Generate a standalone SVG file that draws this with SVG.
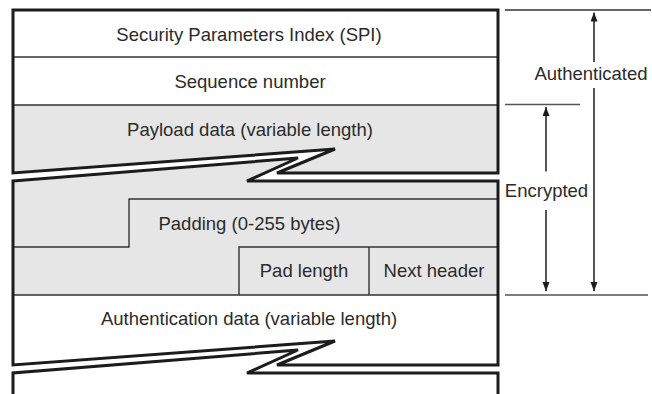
<svg xmlns="http://www.w3.org/2000/svg" width="652" height="394" viewBox="0 0 652 394">
<style>
text{font-family:"Liberation Sans",Arial,sans-serif;font-size:18.5px;fill:#2b2b2b}
.c{text-anchor:middle}
.gray{fill:#e6e6e7;stroke:none}
.white{fill:#fff;stroke:none}
.inner{fill:none;stroke:#333;stroke-width:1.4}
.outer{fill:none;stroke:#1c1c1c;stroke-width:3;stroke-linejoin:miter}
.rule{stroke:#555;stroke-width:1.6}
.arr{stroke:#1c1c1c;stroke-width:1.5;fill:none;marker-end:url(#ah)}
</style>
<defs>
<marker id="ah" markerUnits="userSpaceOnUse" markerWidth="9" markerHeight="8" refX="9" refY="3.5" orient="auto">
<path d="M0,0 L9,3.5 L0,7 z" fill="#1c1c1c"/>
</marker>
</defs>
<rect width="652" height="394" fill="#fff"/>
<g id="packet-top">
<rect class="white" x="13" y="10" width="485" height="95"/>
<path class="gray" d="M13,105 L498,105 L498,173 L277,173 L335,149 L13,173 Z"/>
<path class="inner" d="M13,57 L498,57 M13,105 L498,105"/>
<path class="outer" d="M13,173 L13,10 L498,10 L498,173 L277,173 L335,149 Z"/>
</g>
<g id="packet-middle">
<path class="gray" d="M13,181 L298,158 L247,181 L498,181 L498,295 L13,295 Z"/>
<path class="white" d="M13,295 L498,295 L498,365 L277,365 L335,341 L13,365 Z"/>
<path class="inner" d="M13,247 L129,247 L129,199 L498,199 M239,295 L239,247 L498,247 M369,247 L369,295 M13,295 L498,295"/>
<path class="outer" d="M13,181 L298,158 L247,181 L498,181 L498,365 L277,365 L335,341 L13,365 Z"/>
</g>
<g id="packet-bottom">
<path class="white" d="M13,400 L13,373 L298,350 L247,373 L498,373 L498,400 Z"/>
<path class="outer" d="M13,400 L13,373 L298,350 L247,373 L498,373 L498,400"/>
</g>
<g id="spi"><text class="c" x="249" y="40.5">Security Parameters Index (SPI)</text></g>
<g id="seq"><text class="c" x="250" y="88">Sequence number</text></g>
<g id="payload"><text class="c" x="250" y="136">Payload data (variable length)</text></g>
<g id="padding"><text class="c" x="249.5" y="230">Padding (0-255 bytes)</text></g>
<g id="padlen"><text class="c" x="304" y="277">Pad length</text></g>
<g id="nexthdr"><text class="c" x="434" y="277">Next header</text></g>
<g id="authdata"><text class="c" x="249" y="325">Authentication data (variable length)</text></g>
<g id="authenticated-label"><text class="c" x="591" y="80">Authenticated</text></g>
<g id="encrypted-label"><text class="c" x="546.5" y="197">Encrypted</text></g>
<g id="connectors">
<line class="rule" x1="505" y1="10" x2="651" y2="10" style="stroke-width:2;stroke:#666"/>
<line class="rule" x1="505" y1="104.5" x2="580" y2="104.5"/>
<line class="rule" x1="505" y1="295" x2="648" y2="295"/>
<line class="arr" x1="594" y1="62" x2="594" y2="12.5"/>
<line class="arr" x1="594" y1="88" x2="594" y2="291"/>
<line class="arr" x1="546" y1="171.5" x2="546" y2="107"/>
<line class="arr" x1="546" y1="210" x2="546" y2="291"/>
</g>
</svg>
